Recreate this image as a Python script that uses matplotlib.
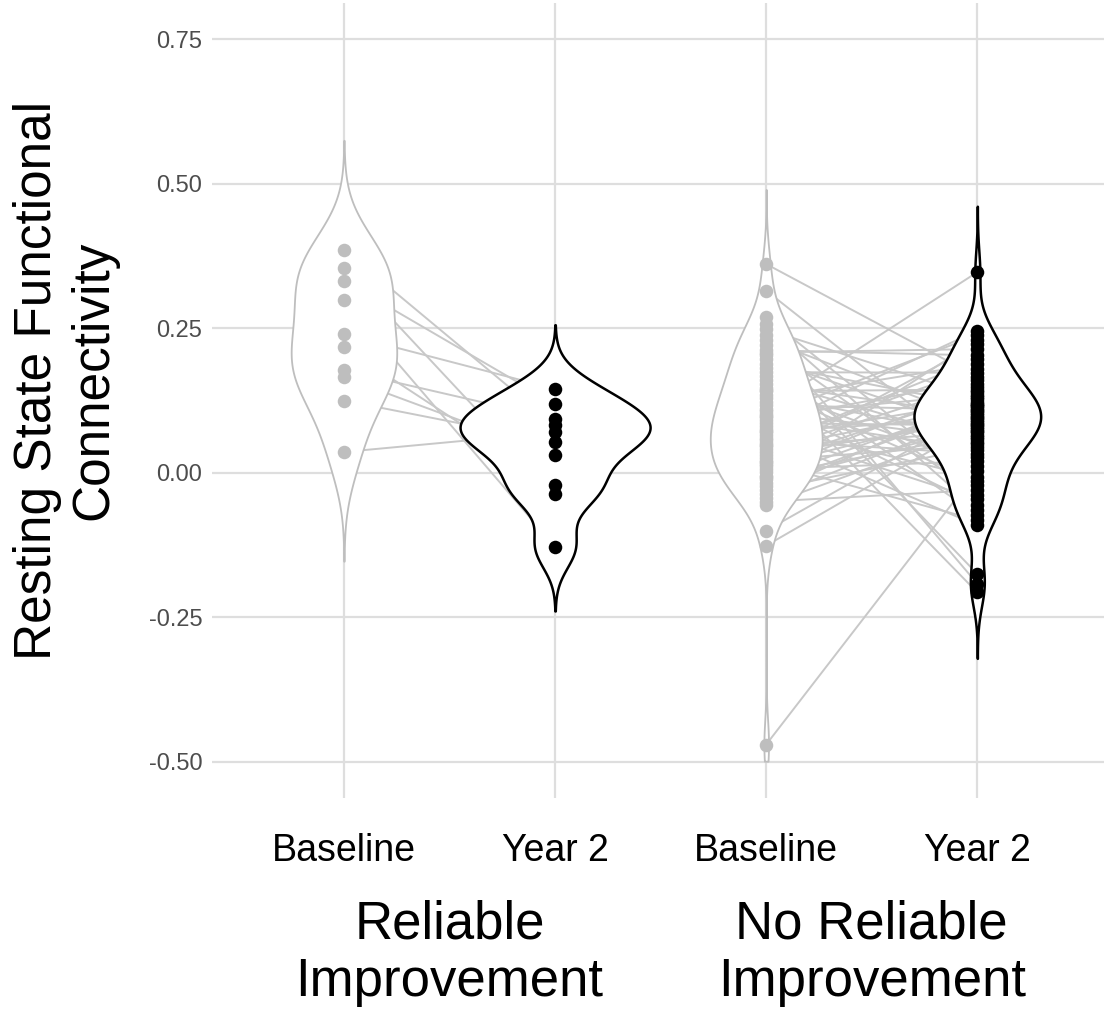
import numpy as np
import matplotlib.pyplot as plt

plt.rcParams['font.family'] = ['Liberation Sans', 'DejaVu Sans']

# reliable improvement group, paired in the same order
ri_baseline = [0.386, 0.355, 0.332, 0.298, 0.240, 0.217, 0.177, 0.165, 0.125, 0.036]
ri_year2 = [0.082, -0.036, 0.119, -0.128, 0.145, -0.022, 0.093, 0.030, 0.053, 0.070]

# no reliable improvement group, paired in the same order
nri_baseline = [0.361, 0.315,
                0.269, 0.248, 0.239, 0.230, 0.221, 0.212, 0.204, 0.196, 0.188,
                0.181, 0.174, 0.167, 0.160, 0.153, 0.147, 0.141, 0.135, 0.129, 0.123,
                0.117, 0.111, 0.106, 0.101, 0.096, 0.091, 0.086, 0.081, 0.076, 0.071,
                0.066, 0.061, 0.056, 0.051, 0.046, 0.041, 0.036, 0.031, 0.026, 0.021,
                0.016, 0.011, 0.006, 0.001, -0.005, -0.011, -0.017, -0.023, -0.030, -0.037,
                -0.044, -0.056,
                -0.100, -0.126, -0.470,
                0.258, 0.208, 0.144, 0.098, 0.073, 0.048, 0.018, -0.008, -0.050]
nri_year2 = [0.166, 0.027,
             -0.022, 0.131, -0.192, 0.091, -0.038, 0.203, -0.175, 0.073, 0.117,
             -0.073, 0.173, -0.207, 0.054, 0.100, 0.012, 0.144, 0.062, 0.188, -0.055,
             0.109, 0.347, 0.058, 0.135, 0.039, 0.160, 0.082, -0.008, 0.246, 0.094,
             -0.091, 0.123, 0.033, 0.180, 0.070, 0.115, 0.154, 0.088, 0.222, 0.049,
             0.139, 0.103, 0.020, 0.149, 0.066, 0.119, 0.079, 0.112, 0.044, 0.127,
             0.097, 0.076,
             0.106, 0.085, 0.003,
             -0.064, 0.214, -0.015, 0.238, -0.046, 0.196, -0.082, 0.230, -0.030]

tick_labels = ['Baseline', 'Year 2', 'Baseline', 'Year 2']
group_labels = ['Reliable\nImprovement', 'No Reliable\nImprovement']
y_ticks = [-0.50, -0.25, 0.00, 0.25, 0.50, 0.75]

# kernel bandwidths and max half-widths of the four violins
bandwidths = [0.063, 0.037, 0.043, 0.038]
half_widths = [0.25, 0.45, 0.265, 0.30]

GRAY = '#bebebe'
LINE = '#c8c8c8'
YMIN, YMAX = -0.5, 0.75


def kde(x, bw):
    x = np.asarray(x)
    grid = np.linspace(x.min() - 3 * bw, x.max() + 3 * bw, 512)
    d = np.exp(-0.5 * ((grid[:, None] - x[None, :]) / bw) ** 2).sum(1)
    keep = (grid >= YMIN) & (grid <= YMAX)
    return grid[keep], d[keep] / d.max()


fig = plt.figure(figsize=(11.04, 10.09), dpi=100)
ax = fig.add_axes([212 / 1104, 1 - 798 / 1009, 892 / 1104, 795 / 1009])

groups = [(1, 2, ri_baseline, ri_year2), (3, 4, nri_baseline, nri_year2)]

# paired lines (behind violins)
for pb, py, base, yr2 in groups:
    for b, y in zip(base, yr2):
        ax.plot([pb, py], [b, y], color=LINE, lw=1.4, zorder=1)

# violins
series = [ri_baseline, ri_year2, nri_baseline, nri_year2]
pos = [1, 2, 3, 4]
edge = [GRAY, 'black', GRAY, 'black']
lws = [1.3, 1.8, 1.3, 1.8]
for p, vals, bw, w, ec, lw in zip(pos, series, bandwidths, half_widths, edge, lws):
    grid, d = kde(vals, bw)
    ax.fill_betweenx(grid, p - w * d, p + w * d, facecolor='white', edgecolor=ec,
                     lw=lw, zorder=2)

# points
for pb, py, base, yr2 in groups:
    ax.scatter([pb] * len(base), base, s=95, color=GRAY, lw=0, zorder=3)
    ax.scatter([py] * len(yr2), yr2, s=95, color='black', lw=0, zorder=3)

ax.set_xlim(0.375, 4.6)
ax.set_ylim(-0.5625, 0.8125)
ax.set_yticks(y_ticks)
ax.set_yticklabels(['%.2f' % t for t in y_ticks], fontsize=17, color='#4d4d4d')
ax.set_xticks(pos)
ax.set_xticklabels(tick_labels, fontsize=27, color='black')
ax.tick_params(axis='both', length=0)
ax.tick_params(axis='x', pad=25)
ax.tick_params(axis='y', pad=7)
ax.grid(color='#dedede', lw=1.6)
ax.set_axisbelow(True)
for s in ax.spines.values():
    s.set_visible(False)

for xc, lab in zip([1.5, 3.5], group_labels):
    ax.text(xc, -0.195, lab, transform=ax.get_xaxis_transform(), ha='center',
            va='center', fontsize=38, linespacing=1.2)

fig.text(66 / 1104, 1 - 380 / 1009, 'Resting State Functional\nConnectivity',
         rotation=90, ha='center', va='center', fontsize=37, linespacing=1.2)

fig.savefig('out.png', dpi=100)
